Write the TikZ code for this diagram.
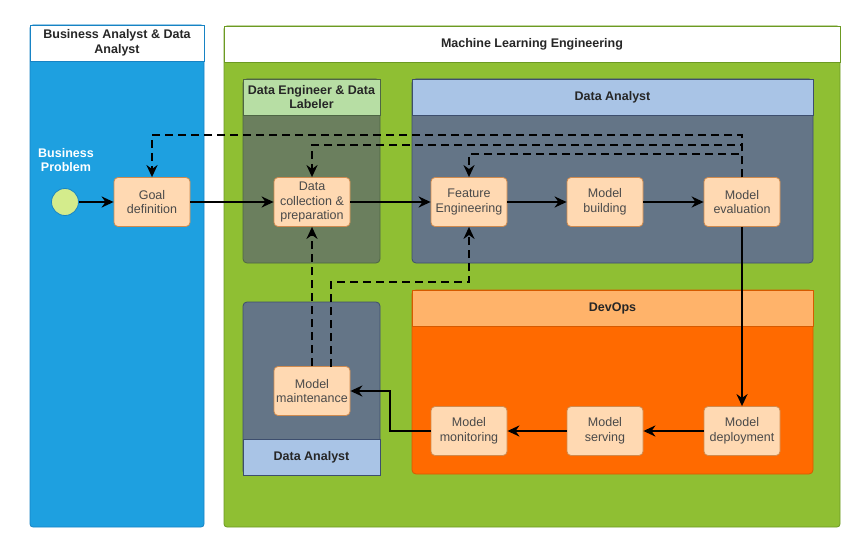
\documentclass[tikz,border=0pt]{standalone}
\usepackage{fontspec}
\setmainfont{Liberation Sans}
\usepackage{tikz}
\usetikzlibrary{arrows.meta,positioning,calc}
\definecolor{laneBlue}{HTML}{1EA0E0}
\definecolor{laneBlueLine}{HTML}{1783C4}
\definecolor{laneGreen}{HTML}{8FBF33}
\definecolor{laneGreenLine}{HTML}{6C9A22}
\definecolor{engBody}{HTML}{6B7F5E}
\definecolor{engHead}{HTML}{B7DEA4}
\definecolor{engLine}{HTML}{4E6644}
\definecolor{daBody}{HTML}{647587}
\definecolor{daHead}{HTML}{A9C4E6}
\definecolor{daLine}{HTML}{3D4E6E}
\definecolor{opsBody}{HTML}{FF6A00}
\definecolor{opsHead}{HTML}{FFB36A}
\definecolor{opsLine}{HTML}{D65A00}
\definecolor{stepFill}{HTML}{FFD9B2}
\definecolor{stepLine}{HTML}{CF8A4E}
\definecolor{stepInk}{HTML}{4A4A4A}
\definecolor{startFill}{HTML}{D4EC8C}

\begin{document}
\begin{tikzpicture}[
  x=1pt,y=-1pt,
  font=\fontsize{12.5}{14.5}\selectfont,
  stepbox/.style={draw=stepLine,thick,fill=stepFill,rounded corners=4pt,minimum width=76pt,minimum height=49pt,align=center,text=stepInk,inner sep=0pt},
  head/.style={font=\fontsize{12.5}{14.5}\selectfont\bfseries,align=center,text=black!85},
  arr/.style={-{Stealth[length=12pt,width=11pt]},line width=2.5pt,black},
  dsh/.style={-{Stealth[length=12pt,width=11pt]},line width=2.5pt,black,dash pattern=on 8pt off 5pt}
]
\useasboundingbox (0,0) rectangle (861,545);
% outer lanes
\filldraw[fill=laneBlue,draw=laneBlueLine,thick,rounded corners=3pt] (30,25) rectangle (204,527);
\filldraw[fill=white,draw=laneBlueLine,thick] (30,25) rectangle (204,61);
\filldraw[fill=laneGreen,draw=laneGreenLine,thick,rounded corners=3pt] (224,26) rectangle (840,527);
\filldraw[fill=white,draw=laneGreenLine,thick] (224,26) rectangle (840,62);
\node[head] (hBiz) at (117,43) {Business Analyst \& Data\\Analyst};
\node[head] (hMle) at (532,44) {Machine Learning Engineering};
% inner lanes
\filldraw[fill=engBody,draw=engLine,thick,rounded corners=4pt] (243,79) rectangle (380,263);
\filldraw[fill=engHead,draw=engLine,thick] (243,79) rectangle (380,115);
\node[head] (hEng) at (311.5,97) {Data Engineer \& Data\\Labeler};
\filldraw[fill=daBody,draw=daLine,thick,rounded corners=4pt] (412,79) rectangle (813,263);
\filldraw[fill=daHead,draw=daLine,thick] (412,79) rectangle (813,115);
\node[head] (hDaTop) at (612.5,97) {Data Analyst};
\filldraw[fill=daBody,draw=daLine,thick,rounded corners=4pt] (243,302) rectangle (380,475);
\filldraw[fill=daHead,draw=daLine,thick] (243,439) rectangle (380,475);
\node[head] (hDaBot) at (311.5,457) {Data Analyst};
\filldraw[fill=opsBody,draw=opsLine,thick,rounded corners=4pt] (412,290) rectangle (813,474);
\filldraw[fill=opsHead,draw=opsLine,thick] (412,290) rectangle (813,326);
\node[head] (hOps) at (612.5,308) {DevOps};
% start event
\node[head,text=white] (biz) at (66,160) {Business\\Problem};
\node[circle,draw=laneBlueLine,thick,fill=startFill,minimum size=27pt] (start) at (65,202) {};
% steps
\node[stepbox] (goal)  at (152,202) {Goal\\definition};
\node[stepbox] (data)  at (312,202) {Data\\collection \&\\preparation};
\node[stepbox] (feat)  at (469,202) {Feature\\Engineering};
\node[stepbox] (build) at (605,202) {Model\\building};
\node[stepbox] (eval)  at (742,202) {Model\\evaluation};
\node[stepbox] (dep)   at (742,431) {Model\\deployment};
\node[stepbox] (serv)  at (605,431) {Model\\serving};
\node[stepbox] (mon)   at (469,431) {Model\\monitoring};
\node[stepbox] (maint) at (312,391) {Model\\maintenance};
% bends
\coordinate (loopA) at (742,135);
\coordinate (loopB) at (742,145);
\coordinate (loopC) at (742,154);
\coordinate (mntB)  at (331,367);
\coordinate (loopD) at (331,282);
\coordinate (bend)  at (390,431);
% main flow
\draw[arr] (start) -- (goal);
\draw[arr] (goal) -- (data);
\draw[arr] (data) -- (feat);
\draw[arr] (feat) -- (build);
\draw[arr] (build) -- (eval);
\draw[arr] (eval) -- (dep);
\draw[arr] (dep) -- (serv);
\draw[arr] (serv) -- (mon);
\draw[arr] (mon.west) -- (bend) |- (maint.east);
% feedback loops
\draw[dsh] (eval.north) -- (loopA) -| (goal.north);
\draw[dsh] (eval.north) -- (loopB) -| (data.north);
\draw[dsh] (eval.north) -- (loopC) -| (feat.north);
\draw[dsh] (maint.north) -- (data.south);
\draw[dsh] (mntB) -- (loopD) -| (feat.south);
\end{tikzpicture}
\end{document}
